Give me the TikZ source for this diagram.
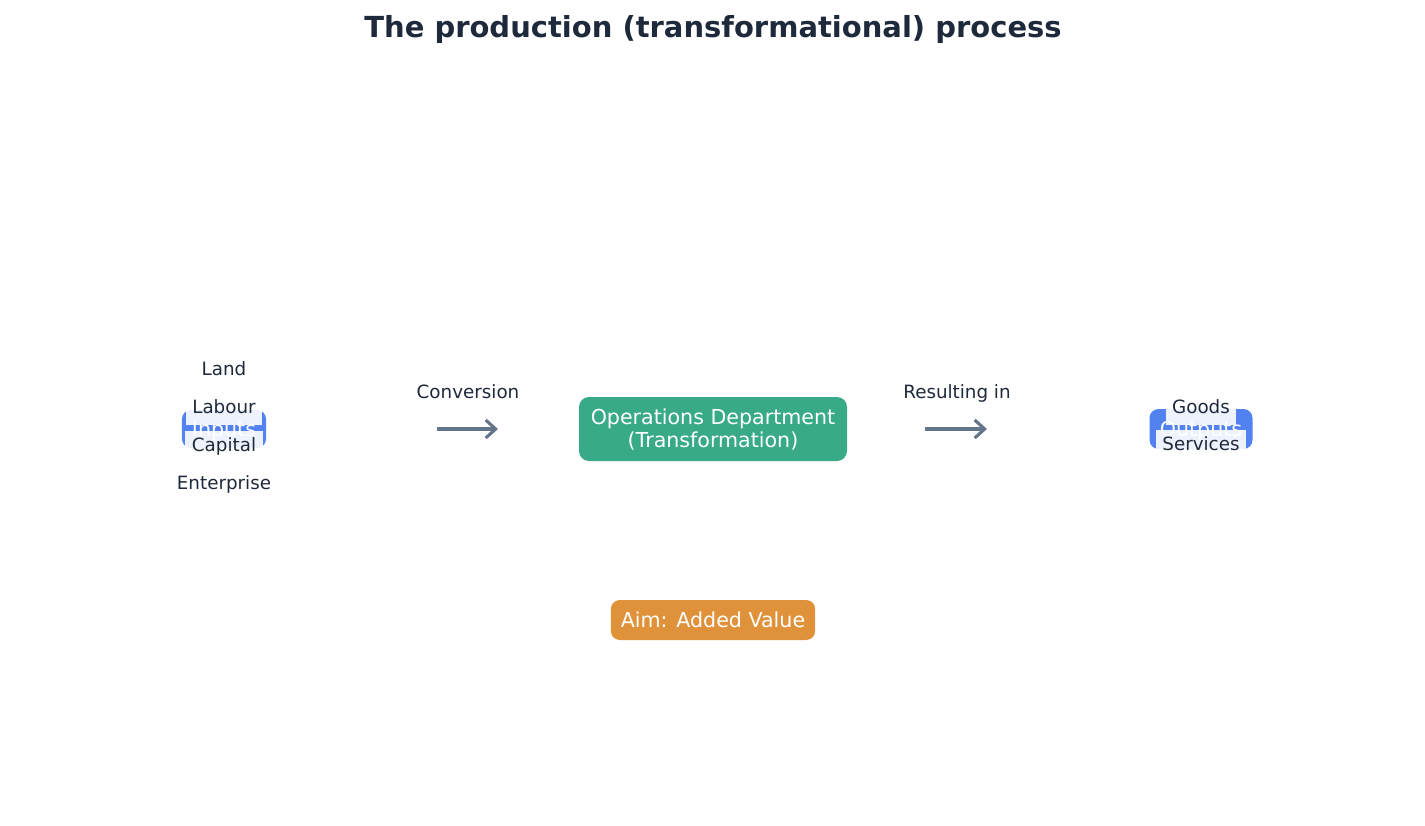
\documentclass[tikz,border=0pt]{standalone}
\usepackage{fontspec}
\setmainfont{DejaVu Sans}
\usetikzlibrary{arrows.meta}
\definecolor{txt}{HTML}{1E293B}
\definecolor{arrowgray}{HTML}{64748B}
\definecolor{bluebox}{RGB}{82,130,240}
\definecolor{greenbox}{RGB}{56,170,135}
\definecolor{orangebox}{RGB}{224,146,58}
\begin{document}
\begin{tikzpicture}[x=1pt,y=-1pt,
  boxbase/.style={rounded corners=9pt, text=white, font=\fontsize{20.6}{23}\selectfont,
    inner xsep=10pt, inner ysep=0pt, align=center},
  onebox/.style={boxbase, text height=17.5pt, text depth=2.5pt},
  lbl/.style={fill=white, fill opacity=0.9, text opacity=1, text=txt,
    font=\fontsize{18.3}{22}\selectfont, inner xsep=6.5pt, inner ysep=0pt,
    text height=14pt, text depth=5pt, minimum height=32pt},
  plainlbl/.style={text=txt, font=\fontsize{18.3}{22}\selectfont, inner sep=0pt,
    text height=14pt, text depth=5pt},
  arr/.style={draw=arrowgray, line width=3.1pt,
    -{Straight Barb[length=10pt,width=18pt]}}
]
\useasboundingbox (0,0) rectangle (1425,825);

\node[text=txt, font=\bfseries\fontsize{29}{33}\selectfont, inner sep=0pt,
  text height=21pt, text depth=6pt] (title) at (713,30)
  {The production (transformational) process};

% Inputs
\node[onebox, fill=bluebox, minimum width=84pt, minimum height=38pt]
  (inputs) at (224,429) {Inputs};
\node[lbl] (land) at (224,370.5) {Land};
\node[lbl] (labour) at (224,408.5) {Labour};
\node[lbl] (capital) at (224,446.5) {Capital};
\node[lbl] (enterprise) at (224,484.5) {Enterprise};

% Conversion arrow
\node[plainlbl] (conv) at (468,394) {Conversion};
\coordinate (c1s) at (437,429);
\coordinate (c1e) at (498,429);
\draw[arr] (c1s) -- (c1e);

% Operations
\node[boxbase, fill=greenbox, rounded corners=10pt, minimum width=268pt,
  minimum height=64pt, text height=40.5pt, text depth=4.5pt] (ops) at (713,429)
  {Operations Department\\(Transformation)};

% Resulting in arrow
\node[plainlbl] (res) at (957,394) {Resulting in};
\coordinate (c2s) at (925,429);
\coordinate (c2e) at (987,429);
\draw[arr] (c2s) -- (c2e);

% Outputs
\node[onebox, fill=bluebox, minimum width=103pt, minimum height=40pt]
  (outputs) at (1201,429) {Outputs};
\node[lbl] (goods) at (1201,408.5) {Goods};
\node[lbl] (services) at (1201,445.5) {Services};

% Aim
\node[onebox, fill=orangebox, minimum width=204pt, minimum height=40pt]
  (aim) at (713,620) {Aim: Added Value};
\end{tikzpicture}
\end{document}
